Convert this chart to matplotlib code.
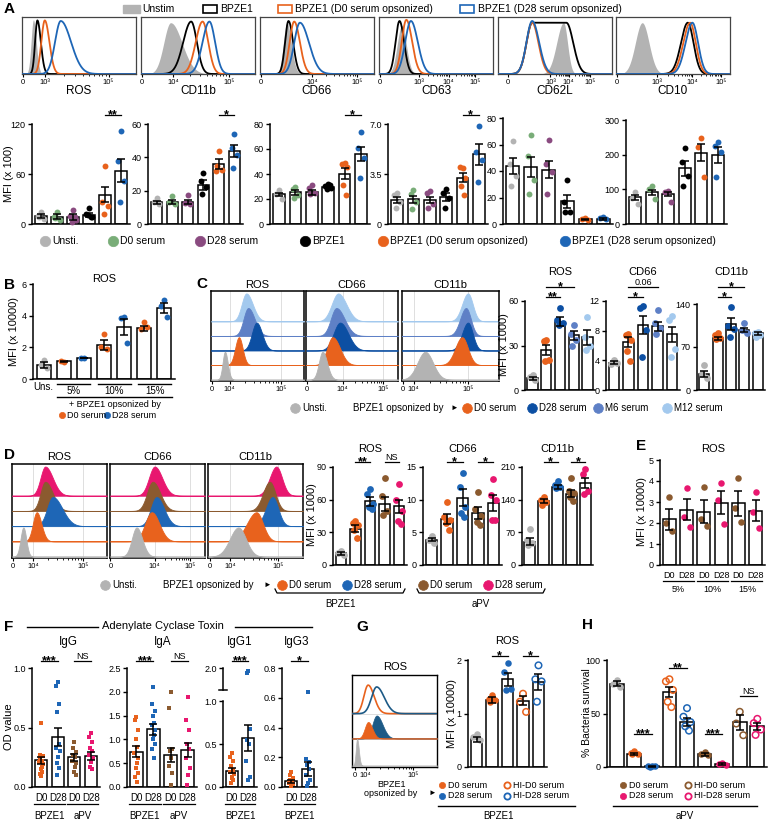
import numpy as np
import matplotlib
matplotlib.use("Agg")
import matplotlib.pyplot as plt
from matplotlib.lines import Line2D
from matplotlib.patches import Rectangle
from matplotlib.transforms import blended_transform_factory

plt.rcParams['font.family'] = ['Liberation Sans', 'DejaVu Sans']
plt.rcParams['axes.linewidth'] = 1.0

W, H = 768, 824

# colours
GREY = '#b3b3b3'
GREEN = '#79ad78'
PURPLE = '#8a4b80'
ORANGE = '#e8621d'
BLUE = '#1e66b6'
DBLUE = '#0c4fa3'
M6 = '#5e80c6'
M12 = '#a3c9ee'
BROWN = '#8b5a2f'
PINK = '#e8176f'
TEAL = '#1d5a86'

# ---------------- data ----------------
# A: flow histograms (centre, left width, right width, height, plateau)
a_hist_names = ['ROS', 'CD11b', 'CD66', 'CD63', 'CD62L', 'CD10']
a_hist_ros = [(0.10, 0.02, 0.025, 0.95, 0), (0.135, 0.02, 0.03, 0.94, 0),
              (0.20, 0.03, 0.04, 0.94, 0), (0.34, 0.05, 0.09, 0.93, 0)]
a_hist_cd11b = [(0.26, 0.06, 0.10, 0.90, 0), (0.44, 0.07, 0.05, 0.92, 0),
                (0.54, 0.06, 0.05, 0.92, 0), (0.60, 0.06, 0.05, 0.92, 0)]
a_hist_cd66 = [(0.235, 0.03, 0.04, 0.90, 0), (0.25, 0.03, 0.04, 0.93, 0),
               (0.30, 0.04, 0.05, 0.92, 0), (0.35, 0.05, 0.08, 0.90, 0)]
a_hist_cd63 = [(0.20, 0.04, 0.04, 0.85, 0), (0.18, 0.035, 0.04, 0.93, 0),
               (0.24, 0.04, 0.05, 0.95, 0), (0.28, 0.05, 0.06, 0.93, 0)]
a_hist_cd62l = [(0.575, 0.06, 0.035, 0.90, 0), (0.30, 0.05, 0.06, 0.90, 0.30),
                (0.30, 0.05, 0.055, 0.90, 0), (0.30, 0.05, 0.06, 0.93, 0)]
a_hist_cd10 = [(0.23, 0.06, 0.06, 0.90, 0), (0.63, 0.06, 0.05, 0.90, 0),
               (0.65, 0.06, 0.05, 0.90, 0), (0.67, 0.06, 0.05, 0.90, 0)]
a_hist_ticks = [([0.005, 0.2, 0.76], ['0', '10³', '10⁵']),
                ([0.01, 0.28, 0.77], ['0', '10⁴', '10⁵']),
                ([0.005, 0.46, 0.85], ['0', '10⁴', '10⁵']),
                ([0.005, 0.35, 0.61, 0.84], ['0', '10³', '10⁴', '10⁵']),
                ([0.09, 0.46, 0.62, 0.81], ['0', '10³', '10⁴', '10⁵']),
                ([0.01, 0.36, 0.67, 0.92], ['0', '10³', '10⁴', '10⁵'])]

# A: bar charts
a_groups = ['Unsti.', 'D0 serum', 'D28 serum', 'BPZE1',
            'BPZE1 (D0 serum opsonized)', 'BPZE1 (D28 serum opsonized)']
a_colors = [GREY, GREEN, PURPLE, 'black', ORANGE, BLUE]
ros_mean = [9.5, 9, 8, 11, 35, 64]
ros_sem = [2.5, 2.5, 3.5, 2.5, 9, 14]
ros_pts = [[14, 10, 6, 8], [15, 9, 5, 7], [17, 10, 5, 3, 8], [19, 12, 9, 11, 8],
           [70, 27, 22, 12], [112, 76, 52, 26]]
cd11b_mean = [13, 13.2, 13.4, 23.5, 36, 44]
cd11b_sem = [1, 1, 1.2, 3, 3, 3.5]
cd11b_pts = [[15.8, 13.4, 12], [17, 13.4, 12.2], [17.4, 12.8, 12], [30.4, 26, 22.4, 17.8],
             [44, 32, 32.5, 35], [54, 45.8, 41.4, 33.8]]
cd66_mean = [23.7, 25.3, 25.3, 29.3, 40.3, 56.3]
cd66_sem = [1.5, 2, 2, 0.8, 4.5, 5.5]
cd66_pts = [[27, 23.7, 19.7], [30, 27.7, 23, 20.5], [31, 29, 25, 23.7], [32, 30.5, 29, 28, 31],
            [49, 47.7, 45.6, 31, 23], [74, 60.5, 52.5, 36.5]]
cd63_mean = [1.68, 1.73, 1.68, 1.89, 3.24, 4.88]
cd63_sem = [0.2, 0.25, 0.2, 0.25, 0.3, 0.75]
cd63_pts = [[2.15, 2.03, 1.56, 1.1], [2.38, 2.08, 1.56, 1.05], [2.31, 2.15, 1.42, 1.1],
            [2.43, 2.2, 1.8, 1.14], [3.94, 3.99, 3.24, 2.66, 2.03], [6.88, 5.06, 4.48, 2.96]]
cd62l_mean = [44, 43, 41, 17, 3.5, 3.8]
cd62l_sem = [6, 7.5, 6.5, 5, 0.6, 0.6]
cd62l_pts = [[62.7, 45, 36, 29], [67, 51.6, 33, 23], [63.7, 45, 39.5, 23], [33, 16.4, 9.3, 8.8],
             [4.8, 3.8, 3.2], [5.5, 4.3, 3.8]]
cd10_mean = [77, 91, 86.5, 161, 206, 199]
cd10_sem = [8, 8, 7, 22, 25, 22]
cd10_pts = [[93, 74, 57], [108.6, 101, 73], [96, 91, 64], [218, 178, 138.5, 110.6],
            [247, 223, 136.5], [235.6, 225, 208.6, 136.5]]

# B
b_mean = [0.88, 1.13, 1.33, 2.16, 3.31, 3.2, 4.47]
b_sem = [0.2, 0.03, 0.02, 0.3, 0.5, 0.15, 0.3]
b_pts = [[1.22, 0.9, 0.69], [1.1, 1.16], [1.33, 1.34], [2.85, 2.05, 1.89],
         [3.9, 3.84, 2.26], [3.63, 3.15, 3.3], [4.99, 4.61, 3.94]]
b_colors = [GREY, ORANGE, BLUE, ORANGE, BLUE, ORANGE, BLUE]
b_pct = ['5%', '10%', '15%']

# C
c_colors = [GREY, ORANGE, DBLUE, M6, M12]
c_hist_ros = [(0.15, 0.025, 0.03), (0.30, 0.04, 0.04), (0.49, 0.05, 0.06),
              (0.40, 0.05, 0.07), (0.38, 0.05, 0.07)]
c_hist_cd66 = [(0.18, 0.04, 0.05), (0.29, 0.06, 0.08), (0.37, 0.07, 0.09),
               (0.33, 0.06, 0.09), (0.35, 0.07, 0.09)]
c_hist_cd11b = [(0.24, 0.08, 0.08), (0.62, 0.07, 0.06), (0.68, 0.06, 0.05),
                (0.66, 0.06, 0.05), (0.68, 0.06, 0.05)]
c_hist_ticks = [[0.01, 0.2, 0.75], [0.01, 0.4, 0.84], [0.01, 0.12, 0.68]]
c_ros_mean = [7.8, 26.8, 45.9, 37, 35.5]
c_ros_sem = [1.2, 3.5, 3, 3, 5]
c_ros_pts = [[10, 8.5, 6.7], [34, 32.9, 20, 19.7], [55.5, 47.4, 45, 43.5],
             [43.6, 38, 34, 29.5], [49.2, 35.8, 30, 26.8]]
c_cd66_mean = [3.67, 6.5, 8.74, 8.6, 7.53]
c_cd66_sem = [0.2, 0.7, 1.2, 0.6, 1.0]
c_cd66_pts = [[4.0, 3.5, 3.7], [7.6, 7.4, 6.8, 5.3, 3.9], [11.3, 11, 8.07, 4.5],
              [10.85, 8.97, 8.3, 7.5], [9.96, 9.5, 5.47, 4.4]]
c_cd11b_mean = [26, 84, 107, 97.7, 92]
c_cd11b_sem = [5, 2.5, 10, 3, 2.5]
c_cd11b_pts = [[40.7, 26, 19], [92, 89, 85, 82.5], [134.6, 104, 100, 86.8],
               [108.5, 97, 92], [95, 92, 89.5, 86.8]]

# D
d_colors = [GREY, ORANGE, BLUE, BROWN, PINK]
d_hist_ros = [(0.12, 0.03, 0.03), (0.26, 0.04, 0.05), (0.43, 0.06, 0.10),
              (0.35, 0.05, 0.08), (0.35, 0.05, 0.08)]
d_hist_cd66 = [(0.28, 0.05, 0.06), (0.44, 0.07, 0.08), (0.49, 0.06, 0.08),
               (0.45, 0.06, 0.08), (0.47, 0.06, 0.08)]
d_hist_cd11b = [(0.32, 0.09, 0.08), (0.51, 0.10, 0.07), (0.68, 0.07, 0.06),
                (0.65, 0.07, 0.06), (0.72, 0.07, 0.06)]
d_hist_ticks = [[0.01, 0.22, 0.75], [0.005, 0.47, 0.84], [0.02, 0.23, 0.74]]
d_ros_mean = [10.7, 33.5, 58.5, 56, 54]
d_ros_sem = [1.2, 3, 4, 6, 6]
d_ros_pts = [[13, 11, 9], [40, 38.7, 37, 32, 24.4], [70, 65.5, 56.4, 53, 51.8],
             [80, 63, 50, 46], [74.7, 60, 50, 40, 38]]
d_cd66_mean = [3.9, 7.0, 10.3, 8.0, 9.5]
d_cd66_sem = [0.3, 0.8, 1.3, 0.9, 1.2]
d_cd66_pts = [[4.4, 3.8, 3.3], [9.7, 7.4, 6.9, 6.4, 5.3], [14.1, 11.9, 8.9, 7.9, 7.3],
              [11.1, 8.6, 7.5, 6.6, 6.1], [13.1, 10.7, 10, 6.9, 6.9]]
d_cd11b_mean = [50, 136.5, 166.5, 153, 175.5]
d_cd11b_sem = [8, 4, 4, 8, 10]
d_cd11b_pts = [[78, 54, 46.5, 43], [145.5, 140, 134, 129], [180, 172.5, 168, 165],
               [186.7, 159, 155, 145, 136.5], [205.5, 195, 159, 153]]

# E
e_labels = ['D0', 'D28', 'D0', 'D28', 'D0', 'D28']
e_mean = [2.17, 2.62, 2.54, 2.97, 2.94, 2.59]
e_sem = [0.5, 0.5, 0.55, 0.55, 0.6, 0.5]
e_pts = [[3.25, 1.98, 1.63], [3.65, 2.27, 1.83], [3.7, 2.17, 1.86],
         [3.89, 3.1, 1.95], [4.13, 2.7, 2.06], [3.49, 2.54, 1.75]]
e_colors = [BROWN, PINK, BROWN, PINK, BROWN, PINK]

# F
f_colors = [ORANGE, BLUE, BROWN, PINK]
igg_mean = [0.225, 0.42, 0.248, 0.26]
igg_sem = [0.03, 0.075, 0.03, 0.03]
igg_pts = [[0.54, 0.27, 0.26, 0.24, 0.22, 0.21, 0.19, 0.17, 0.15, 0.13, 0.11, 0.09],
           [0.88, 0.85, 0.7, 0.63, 0.36, 0.33, 0.3, 0.25, 0.2, 0.16, 0.1],
           [0.38, 0.33, 0.29, 0.27, 0.25, 0.22, 0.2, 0.17, 0.13, 0.1],
           [0.45, 0.42, 0.38, 0.33, 0.3, 0.27, 0.24, 0.21, 0.17, 0.15]]
iga_mean = [0.74, 1.21, 0.67, 0.77]
iga_sem = [0.12, 0.12, 0.15, 0.15]
iga_pts = [[1.48, 1.4, 1.2, 1.0, 0.85, 0.72, 0.6, 0.5, 0.4, 0.3, 0.2, 0.1],
           [2.1, 1.75, 1.6, 1.5, 1.35, 1.3, 1.2, 1.1, 1.0, 0.9, 0.8, 0.6],
           [2.0, 1.65, 0.8, 0.75, 0.6, 0.45, 0.3, 0.05],
           [1.9, 1.4, 1.2, 0.9, 0.8, 0.6, 0.4, 0.25, 0.05]]
igg1_mean = [0.19, 0.57]
igg1_sem = [0.03, 0.15]
igg1_pts = [[0.4, 0.35, 0.3, 0.25, 0.2, 0.18, 0.15, 0.12, 0.1, 0.08, 0.05],
            [1.9, 1.8, 0.68, 0.55, 0.5, 0.3, 0.12, 0.08]]
igg3_mean = [0.04, 0.12]
igg3_sem = [0.01, 0.045]
igg3_pts = [[0.1, 0.08, 0.06, 0.05, 0.04, 0.03, 0.02, 0.02, 0.01],
            [0.64, 0.19, 0.17, 0.15, 0.12, 0.08, 0.05, 0.03, 0.01]]

# G
g_hist_rows = [[(0.06, 0.015, 0.02, 0.29, GREY, True)],
               [(0.29, 0.05, 0.07, 0.25, TEAL, True), (0.19, 0.04, 0.05, 0.18, ORANGE, True)],
               [(0.19, 0.05, 0.07, 0.31, ORANGE, False), (0.29, 0.06, 0.09, 0.29, TEAL, False)]]
g_mean = [0.52, 1.25, 1.64, 1.24, 1.59]
g_sem = [0.05, 0.05, 0.12, 0.08, 0.15]
g_pts = [[0.62, 0.56, 0.51], [1.34, 1.28, 1.25, 1.22], [1.95, 1.78, 1.45, 1.44],
         [1.37, 1.22, 1.03], [1.9, 1.64, 1.6, 1.22]]
g_colors = [GREY, ORANGE, BLUE, ORANGE, BLUE]
g_hollow = [False, False, False, True, True]

# H
h_mean = [78, 12.5, 0.6, 70, 42, 12, 2.5, 42, 38]
h_sem = [2.5, 1, 0.3, 5, 4, 1.5, 1, 7, 3.5]
h_pts = [[81, 78, 75], [15, 13, 12.5, 12], [0.8, 0.6, 0.5, 0.4], [82, 80, 72, 61, 56],
         [55, 47, 42, 38, 34], [14, 12, 11], [3.75, 2.5, 2], [51.6, 40.6, 29.7],
         [45, 41, 35, 30]]
h_colors = [GREY, ORANGE, BLUE, ORANGE, BLUE, BROWN, PINK, BROWN, PINK]
h_hollow = [False, False, False, True, True, False, False, True, True]

# ---------------- helpers ----------------
fig = plt.figure(figsize=(W / 100, H / 100), dpi=100)


def axpx(x0, y0, x1, y1):
    return fig.add_axes([x0 / W, 1 - y1 / H, (x1 - x0) / W, (y1 - y0) / H])


def T(x, y, s, size=8, ha='center', va='center', **kw):
    fig.text(x / W, 1 - y / H, s, fontsize=size, ha=ha, va=va, **kw)


def L(xs, ys, color='black', lw=1.0):
    fig.add_artist(Line2D([x / W for x in xs], [1 - y / H for y in ys],
                          transform=fig.transFigure, color=color, lw=lw))


def dot(x, y, color, ms=7, hollow=False, marker='o'):
    fig.add_artist(Line2D([x / W], [1 - y / H], transform=fig.transFigure, marker=marker,
                          ms=ms, ls='none', mfc='none' if hollow else color, mec=color,
                          mew=1.3 if hollow else 0.5))


def letter(x, y, s):
    T(x, y, s, size=11, ha='left', weight='bold')


JIT = np.array([0.0, -0.8, 0.8, -0.4, 0.45, -0.95, 0.95, 0.2, -0.2, 0.65, -0.6, 0.1, -0.1])


def bars(ax, means, sems, pts, colors, ymax, yticks, ylabels=None, hollow=None,
         marker='o', s=18, spread=0.22, width=0.72):
    n = len(means)
    x = np.arange(n)
    ax.bar(x, means, width=width, color='white', edgecolor='black', lw=1.1, zorder=2)
    for i in range(n):
        p = np.asarray(pts[i])
        off = JIT[:len(p)] * spread
        if hollow is not None and hollow[i]:
            ax.scatter(x[i] + off, p, s=s, facecolor='none', edgecolor=colors[i], lw=1.1,
                       marker=marker, zorder=3, clip_on=False)
        else:
            ax.scatter(x[i] + off, p, s=s, color=colors[i], marker=marker, lw=0,
                       zorder=3, clip_on=False)
    ax.errorbar(x, means, yerr=sems, fmt='none', ecolor='black', elinewidth=1.1,
                capsize=2.8, capthick=1.1, zorder=5)
    ax.set_xlim(-0.55, n - 0.45)
    ax.set_ylim(0, ymax)
    ax.set_yticks(yticks)
    if ylabels is not None:
        ax.set_yticklabels(ylabels)
    for sp in ['top', 'right']:
        ax.spines[sp].set_visible(False)
    for sp in ['left', 'bottom']:
        ax.spines[sp].set_linewidth(1.1)
    ax.tick_params(axis='y', length=3, width=1, labelsize=6.5, pad=1.5)
    ax.tick_params(axis='x', bottom=False, labelbottom=False)
    ax.patch.set_alpha(0)


def sig(ax, i, j, ypx, txt, size=9):
    tr = blended_transform_factory(ax.transData, fig.transFigure)
    yf = 1 - ypx / H
    ax.plot([i, j], [yf, yf], transform=tr, color='black', lw=0.9, clip_on=False)
    if txt.startswith('*'):
        ax.text((i + j) / 2, 1 - (ypx + 3.5) / H, txt, transform=tr, ha='center',
                va='baseline', fontsize=size, weight='bold')
    else:
        ax.text((i + j) / 2, 1 - (ypx - 2) / H, txt, transform=tr, ha='center',
                va='baseline', fontsize=6.5)


def peak(xs, c, wl, wr, plat=0.0):
    y = np.ones_like(xs)
    lft = xs < c
    rgt = xs > c + plat
    y[lft] = np.exp(-0.5 * ((xs[lft] - c) / wl) ** 2)
    y[rgt] = np.exp(-0.5 * ((xs[rgt] - c - plat) / wr) ** 2)
    return y


def hist_frame(ax, ticks, labels, lw=0.9, col='#444444', grid=False):
    ax.set_xlim(0, 1)
    ax.set_ylim(0, 1)
    ax.set_yticks([])
    ax.set_xticks(ticks)
    ax.set_xticklabels(labels)
    minors = []
    for a, b in zip(ticks[1:-1], ticks[2:]):
        minors += [a + (b - a) * np.log10(m) for m in range(2, 10)]
    ax.set_xticks(minors, minor=True)
    ax.tick_params(axis='x', which='major', length=2.5, width=0.8, labelsize=5.5, pad=1)
    ax.tick_params(axis='x', which='minor', length=1.5, width=0.6)
    for sp in ax.spines.values():
        sp.set_linewidth(lw)
        sp.set_color(col)
    if grid:
        for t in ticks[1:]:
            ax.axvline(t, color='#d9d9d9', lw=0.6, zorder=0)


XS = np.linspace(0, 1, 600)


def overlay_hist(ax, curves, ticks, labels):
    cols = [GREY, 'black', ORANGE, BLUE]
    for k, (c, wl, wr, h, plat) in enumerate(curves):
        y = h * peak(XS, c, wl, wr, plat)
        if k == 0:
            ax.fill_between(XS, 0, y, color=GREY, lw=0, zorder=1)
        else:
            ax.plot(XS, y, color=cols[k], lw=1.3, zorder=2 + k)
    hist_frame(ax, ticks, labels)


def stacked_hist(ax, rows, colors, ticks, step=0.162, h=0.31):
    for k in range(len(rows) - 1, -1, -1):
        c, wl, wr = rows[k]
        base = 0.015 + k * step
        y = base + h * peak(XS, c, wl, wr)
        ax.fill_between(XS, base, y, color=colors[k], lw=0.6, ec=colors[k], zorder=2 + (5 - k))
        ax.axhline(base, color='#cfcfcf', lw=0.5, zorder=1)
    hist_frame(ax, ticks, ['0', '10⁴', '10⁵'], lw=1.1, col='black', grid=True)


# ---------------- panel A ----------------
letter(4, 9, 'A')
fig.add_artist(Rectangle((123 / W, 1 - 13 / H), 17 / W, 8 / H, transform=fig.transFigure,
                         fc=GREY, ec=GREY))
T(142, 9, 'Unstim', 7.5, ha='left')
fig.add_artist(Rectangle((203 / W, 1 - 13 / H), 14 / W, 8 / H, transform=fig.transFigure,
                         fc='white', ec='black', lw=1.2))
T(220, 9, 'BPZE1', 7.5, ha='left')
fig.add_artist(Rectangle((278 / W, 1 - 13 / H), 14 / W, 8 / H, transform=fig.transFigure,
                         fc='white', ec=ORANGE, lw=1.2))
T(295, 9, 'BPZE1 (D0 serum opsonized)', 7.5, ha='left')
fig.add_artist(Rectangle((460 / W, 1 - 13 / H), 14 / W, 8 / H, transform=fig.transFigure,
                         fc='white', ec=BLUE, lw=1.2))
T(478, 9, 'BPZE1 (D28 serum opsonized)', 7.5, ha='left')

a_hist_curves = [a_hist_ros, a_hist_cd11b, a_hist_cd66, a_hist_cd63, a_hist_cd62l, a_hist_cd10]
a_box_x = [22, 141, 260, 379, 498, 616]
for k in range(6):
    ax = axpx(a_box_x[k], 17, a_box_x[k] + 114, 74)
    overlay_hist(ax, a_hist_curves[k], a_hist_ticks[k][0], a_hist_ticks[k][1])
    T(a_box_x[k] + 57, 91, a_hist_names[k], 8.5)

a_bar_px = [(32, 124, 130, 224), (148, 124, 243, 224), (270, 124, 370, 224),
            (388, 124, 488, 224), (503, 118, 613, 224), (626, 120, 727, 224)]
a_sets = [(ros_mean, ros_sem, ros_pts, 120, [0, 60, 120], None),
          (cd11b_mean, cd11b_sem, cd11b_pts, 60, [0, 20, 40, 60], None),
          (cd66_mean, cd66_sem, cd66_pts, 80, [0, 20, 40, 60, 80], None),
          (cd63_mean, cd63_sem, cd63_pts, 7.0, [0, 3.5, 7.0], ['0', '3.5', '7.0']),
          (cd62l_mean, cd62l_sem, cd62l_pts, 80, [0, 20, 40, 60, 80], None),
          (cd10_mean, cd10_sem, cd10_pts, 300, [0, 100, 200, 300], None)]
a_sig = ['**', '*', '*', '*', None, None]
for k in range(6):
    ax = axpx(*a_bar_px[k])
    m, s_, p, ymax, yt, yl = a_sets[k]
    bars(ax, m, s_, p, a_colors, ymax, yt, yl)
    if a_sig[k]:
        sig(ax, 4, 5, 115, a_sig[k])
T(9, 174, 'MFI (x 100)', 8, rotation=90)

a_leg_x = [45, 113, 200, 305, 383, 565]
for k in range(6):
    dot(a_leg_x[k], 241, a_colors[k], ms=7.5)
    T(a_leg_x[k] + 7, 241, a_groups[k], 7.5, ha='left')

# ---------------- panel B ----------------
letter(4, 285, 'B')
ax = axpx(33, 284, 175, 379)
bars(ax, b_mean, b_sem, b_pts, b_colors, 6, [0, 2, 4, 6], width=0.69, spread=0.18)
ax.set_title('ROS', fontsize=8, pad=-2)
ax.set_ylabel('MFI (x 10000)', fontsize=8, labelpad=2)
T(43, 387, 'Uns.', 7)
for k in range(3):
    x0, x1 = 57 + 40.6 * k, 90 + 40.6 * k
    L([x0, x1], [384, 384])
    T((x0 + x1) / 2, 391, b_pct[k], 7)
L([57, 172], [397, 397])
T(115, 405, '+ BPZE1 opsonized by', 6.5)
dot(62, 415, ORANGE, ms=4.5)
T(67, 415, 'D0 serum', 6.5, ha='left')
dot(107, 415, BLUE, ms=4.5)
T(112, 415, 'D28 serum', 6.5, ha='left')

# ---------------- panel C ----------------
letter(196, 284, 'C')
c_boxes = [(211, 304), (306, 398), (402, 499)]
c_hist = [c_hist_ros, c_hist_cd66, c_hist_cd11b]
c_names = ['ROS', 'CD66', 'CD11b']
for k in range(3):
    ax = axpx(c_boxes[k][0], 291, c_boxes[k][1], 381)
    stacked_hist(ax, c_hist[k], c_colors, c_hist_ticks[k])
    T((c_boxes[k][0] + c_boxes[k][1]) / 2, 285, c_names[k], 8)

c_bar_px = [(525, 301, 595, 390), (606, 301, 680, 390), (697, 304, 765, 390)]
c_sets = [(c_ros_mean, c_ros_sem, c_ros_pts, 60, [0, 30, 60]),
          (c_cd66_mean, c_cd66_sem, c_cd66_pts, 12, [0, 4, 8, 12]),
          (c_cd11b_mean, c_cd11b_sem, c_cd11b_pts, 140, [0, 70, 140])]
c_sig = [('**', '*'), ('*', '0.06'), ('*', '*')]
for k in range(3):
    ax = axpx(*c_bar_px[k])
    m, s_, p, ymax, yt = c_sets[k]
    bars(ax, m, s_, p, c_colors, ymax, yt, s=24, spread=0.24, width=0.75)
    sig(ax, 1, 2, 297, c_sig[k][0])
    sig(ax, 1, 3, 287, c_sig[k][1])
    T((c_bar_px[k][0] + c_bar_px[k][2]) / 2, 272, c_names[k], 8)
T(504, 345, 'MFI (x 1000)', 8, rotation=90)

dot(295, 408, GREY, ms=7)
T(302, 408, 'Unsti.', 7, ha='left')
T(353, 408, 'BPZE1 opsonized by', 7, ha='left')
T(454, 408, '►', 5.5)
c_leg = [(467, ORANGE, 'D0 serum'), (532, DBLUE, 'D28 serum'),
         (598, M6, 'M6 serum'), (667, M12, 'M12 serum')]
for x, c, t in c_leg:
    dot(x, 408, c, ms=7)
    T(x + 7, 408, t, 7, ha='left')

# ---------------- panel D ----------------
letter(4, 455, 'D')
d_boxes = [(12, 107), (110, 205), (208, 303)]
d_hist = [d_hist_ros, d_hist_cd66, d_hist_cd11b]
for k in range(3):
    ax = axpx(d_boxes[k][0], 464, d_boxes[k][1], 558)
    stacked_hist(ax, d_hist[k], d_colors, d_hist_ticks[k])
    T((d_boxes[k][0] + d_boxes[k][1]) / 2, 457, c_names[k], 8)

d_bar_px = [(333, 467, 407, 565), (423, 467, 502, 565), (522, 467, 593, 565)]
d_sets = [(d_ros_mean, d_ros_sem, d_ros_pts, 90, [0, 30, 60, 90]),
          (d_cd66_mean, d_cd66_sem, d_cd66_pts, 15, [0, 5, 10, 15]),
          (d_cd11b_mean, d_cd11b_sem, d_cd11b_pts, 210, [0, 70, 140, 210])]
d_sig = [('**', 'NS'), ('*', '*'), ('*', '*')]
for k in range(3):
    ax = axpx(*d_bar_px[k])
    m, s_, p, ymax, yt = d_sets[k]
    bars(ax, m, s_, p, d_colors, ymax, yt, s=24, spread=0.24, width=0.75)
    sig(ax, 1, 2, 462, d_sig[k][0])
    sig(ax, 3, 4, 462, d_sig[k][1])
    T((d_bar_px[k][0] + d_bar_px[k][2]) / 2, 449, c_names[k], 8)
T(312, 515, 'MFI (x 1000)', 8, rotation=90)

dot(105, 585, GREY, ms=7)
T(112, 585, 'Unsti.', 7, ha='left')
T(163, 585, 'BPZE1 opsonized by', 7, ha='left')
T(267, 585, '►', 5.5)
d_leg = [(282, ORANGE, 'D0 serum'), (347, BLUE, 'D28 serum'),
         (423, BROWN, 'D0 serum'), (488, PINK, 'D28 serum')]
for x, c, t in d_leg:
    dot(x, 585, c, ms=7)
    T(x + 7, 585, t, 7, ha='left')
for x0, x1, t in [(275, 405, 'BPZE1'), (417, 545, 'aPV')]:
    L([x0, x0 + 2, x1 - 2, x1], [589, 593, 593, 589], lw=0.9)
    T((x0 + x1) / 2, 604, t, 7)

# ---------------- panel E ----------------
letter(636, 446, 'E')
ax = axpx(660, 460, 765, 565)
bars(ax, e_mean, e_sem, e_pts, e_colors, 5, [0, 1, 2, 3, 4, 5], s=22, spread=0.22, width=0.75)
T(713, 449, 'ROS', 8)
T(642, 512, 'MFI (x 10000)', 8, rotation=90)
tr = blended_transform_factory(ax.transData, fig.transFigure)
for k in range(6):
    ax.text(k, 1 - 575 / H, e_labels[k], transform=tr, ha='center', va='center', fontsize=6.5)
for k in range(3):
    ax.plot([2 * k - 0.4, 2 * k + 1.4], [1 - 581 / H] * 2, transform=tr, color='black',
            lw=0.9, clip_on=False)
    ax.text(2 * k + 0.5, 1 - 590 / H, b_pct[k], transform=tr, ha='center', va='center',
            fontsize=6.5)

# ---------------- panel F ----------------
letter(4, 627, 'F')
T(163, 626, 'Adenylate Cyclase Toxin', 8)
L([27, 98], [627, 627])
L([235, 312], [627, 627])
f_titles = [(68, 'IgG'), (163, 'IgA'), (240, 'IgG1'), (297, 'IgG3')]
for x, t in f_titles:
    T(x, 642, t, 8.5)
f_px = [(32, 668, 100, 787), (127, 668, 197, 787), (223, 668, 257, 787), (282, 668, 317, 787)]
f_sets = [(igg_mean, igg_sem, igg_pts, 1.0, [0, 0.5, 1.0], ['0.0', '0.5', '1.0']),
          (iga_mean, iga_sem, iga_pts, 2.5, [0, 0.5, 1.0, 1.5, 2.0, 2.5],
           ['0.0', '0.5', '1.0', '1.5', '2.0', '2.5']),
          (igg1_mean, igg1_sem, igg1_pts, 2.0, [0, 0.5, 1.0, 2.0], ['0.0', '0.5', '1.0', '2.0']),
          (igg3_mean, igg3_sem, igg3_pts, 0.8, [0, 0.2, 0.4, 0.6, 0.8],
           ['0.0', '0.2', '0.4', '0.6', '0.8'])]


def brk_f(y):
    y = np.asarray(y, float)
    return np.where(y <= 1.1, y, 1.1 + (y - 1.1) * 0.317)


def brk_i(y):
    y = np.asarray(y, float)
    return np.where(y <= 1.1, y, 1.1 + (y - 1.1) / 0.317)


for k in range(4):
    ax = axpx(*f_px[k])
    m, s_, p, ymax, yt, yl = f_sets[k]
    n = len(m)
    if k == 2:
        ax.set_yscale('function', functions=(brk_f, brk_i))
    bars(ax, m, s_, p, f_colors[:n], ymax, yt, yl, marker='s', s=11, spread=0.12, width=0.72)
    if k == 2:
        ax.spines['left'].set_bounds(0, 1.0)
        trb = blended_transform_factory(ax.transAxes, ax.transData)
        ax.plot([0, 0], [1.19, 2.0], transform=trb, color='black', lw=1.1, clip_on=False)
        ax.plot([-0.13, 0.13], [1.19, 1.19], transform=trb, color='black', lw=1.1, clip_on=False)
    tr = blended_transform_factory(ax.transData, fig.transFigure)
    for i in range(n):
        ax.text(i, 1 - 798 / H, ['D0', 'D28'][i % 2], transform=tr, ha='center',
                va='center', fontsize=7)
    for g in range(n // 2):
        ax.plot([2 * g - 0.45, 2 * g + 1.45], [1 - 804 / H] * 2, transform=tr, color='black',
                lw=0.9, clip_on=False)
        ax.text(2 * g + 0.5, 1 - 816 / H, ['BPZE1', 'aPV'][g], transform=tr, ha='center',
                va='center', fontsize=7)
    sig(ax, 0, 1, 661, '***' if k < 3 else '*')
    if n == 4:
        sig(ax, 2, 3, 661, 'NS')
T(9, 727, 'OD value', 8, rotation=90)

# ---------------- panel G ----------------
letter(356, 627, 'G')
ax = axpx(352, 675, 437, 767)
g_offsets = [0.015, 0.31, 0.58]
for r in range(2, -1, -1):
    base = g_offsets[r]
    for c, wl, wr, h, col, filled in g_hist_rows[r]:
        y = base + h * peak(XS, c, wl, wr)
        if filled:
            ax.fill_between(XS, base, y, color=col, lw=0.5, ec=col, zorder=3 + (3 - r))
        else:
            ax.plot(XS, y, color=col, lw=1.2, zorder=3 + (3 - r))
    ax.axhline(base, color='#cfcfcf', lw=0.5, zorder=1)
hist_frame(ax, [0.03, 0.16, 0.72], ['0', '10⁴', '10⁵'], lw=1.0, col='black')
T(395, 667, 'ROS', 8)
T(391, 789, 'BPZE1\nopsonized by', 6.5, linespacing=0.95)
T(432, 793, '►', 5.5)

ax = axpx(468, 660, 547, 767)
bars(ax, g_mean, g_sem, g_pts, g_colors, 2, [0, 1, 2], hollow=g_hollow, s=22,
     spread=0.25, width=0.75)
sig(ax, 1, 2, 656, '*')
sig(ax, 3, 4, 656, '*')
T(507, 641, 'ROS', 8)
T(452, 713, 'MFI (x 10000)', 8, rotation=90)
for x, y, c, hol, t in [(442, 785, ORANGE, False, 'D0 serum'), (442, 796, BLUE, False, 'D28 serum'),
                        (507, 785, ORANGE, True, 'HI-D0 serum'), (507, 796, BLUE, True, 'HI-D28 serum')]:
    dot(x, y, c, ms=4.5, hollow=hol)
    T(x + 6, y, t, 6.5, ha='left')
L([438, 575], [806, 806])
T(498, 816, 'BPZE1', 7)

# ---------------- panel H ----------------
letter(582, 625, 'H')
ax = axpx(607, 660, 767, 767)
bars(ax, h_mean, h_sem, h_pts, h_colors, 100, [0, 50, 100], hollow=h_hollow, s=22,
     spread=0.25, width=0.78)
sig(ax, 1, 2, 734, '***')
sig(ax, 3, 4, 668, '**')
sig(ax, 5, 6, 734, '***')
sig(ax, 7, 8, 696, 'NS')
T(587, 713, '% Bacteria survival', 7.5, rotation=90)
for x, y, c, hol, t in [(623, 785, BROWN, False, 'D0 serum'), (623, 796, PINK, False, 'D28 serum'),
                        (688, 785, BROWN, True, 'HI-D0 serum'), (688, 796, PINK, True, 'HI-D28 serum')]:
    dot(x, y, c, ms=4.5, hollow=hol)
    T(x + 6, y, t, 6.5, ha='left')
L([613, 757], [806, 806])
T(685, 816, 'aPV', 7)

fig.savefig('out.png', dpi=100)
